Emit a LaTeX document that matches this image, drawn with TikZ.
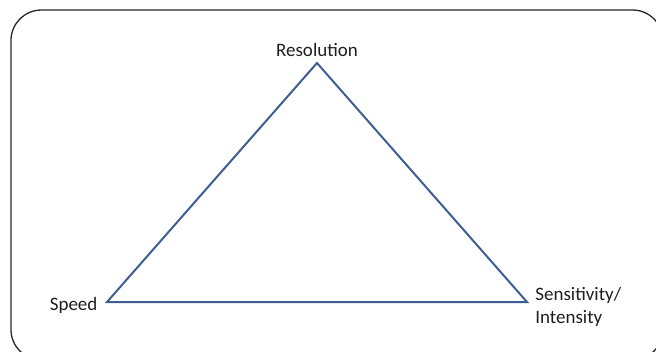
\documentclass[tikz,border=0pt]{standalone}
\usepackage{fontspec}
\setmainfont{Carlito}
\usetikzlibrary{positioning}
\definecolor{edgeblue}{RGB}{62,94,146}
\definecolor{labelgray}{RGB}{30,30,30}
\tikzset{
  frameln/.style={line width=1.1pt, black!85, rounded corners=26},
  sideln/.style={line width=1.7pt, edgeblue, line join=miter},
  corner/.style={font=\fontsize{16.2}{19.5}\selectfont, labelgray, inner sep=1pt},
}

\begin{document}
\begin{tikzpicture}[x=0.03cm, y=-0.03cm]
    \useasboundingbox (0,0) rectangle (656,351);
    \clip (0,0) rectangle (656,351);
    \draw[frameln] (11,10) rectangle (663,360);
    % vertices
    \coordinate (res) at (317,63);
    \coordinate (spd) at (107,302);
    \coordinate (sens) at (527,302);
    \draw[sideln] (res) -- (sens) -- (spd) -- cycle;
    \node[corner, above=4pt of res] (reslab) {Resolution};
    \node[corner, left=7pt of spd, yshift=-3pt] (spdlab) {Speed};
    \node[corner, align=left, anchor=west] (senslab) at (534,307)
      {Sensitivity/\\Intensity};
  \end{tikzpicture}
\end{document}
